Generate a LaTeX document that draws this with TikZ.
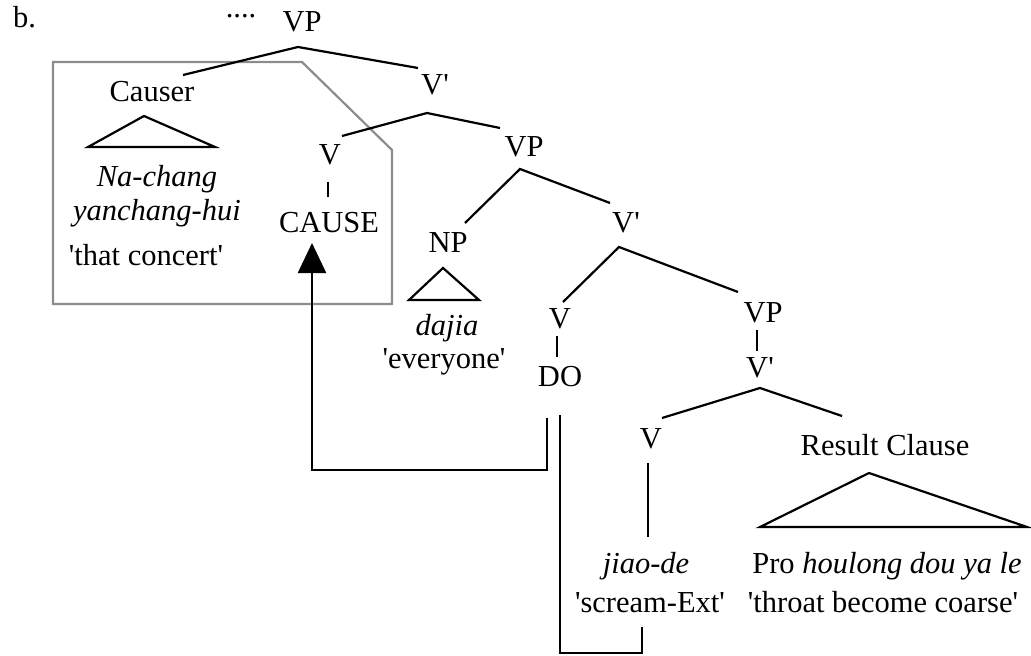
\documentclass[tikz,border=0pt]{standalone}
\usepackage{fontspec}
\setmainfont{Liberation Serif}
\usepackage{tikz}
\usetikzlibrary{arrows.meta}

\newcommand{\sq}{\textquotesingle}

\begin{document}
\begin{tikzpicture}[x=1bp, y=-1bp,
    font=\fontsize{30.5bp}{36bp}\selectfont,
    lbl/.style={anchor=base, inner sep=0pt},
    branch/.style={line width=2.2bp},
    boxline/.style={line width=2.2bp, draw=black!45}]
  \useasboundingbox (0,0) rectangle (1031,656);

  % Nodes
  \node[lbl, anchor=base west] (ex) at (13, 28) {b.};
  \node[lbl] (dots) at (241, 18) {....};
  \node[lbl] (vp1) at (302, 32) {VP};
  \node[lbl] (causer) at (152, 102) {Causer};
  \node[lbl] (nachang) at (157, 187) {\textit{Na-chang}};
  \node[lbl] (yanchang) at (157, 220) {\textit{yanchang-hui}};
  \node[lbl] (concert) at (146, 265) {\sq that concert\sq};
  \node[lbl] (vbar1) at (435, 95) {V\sq};
  \node[lbl] (v1) at (330, 165) {V};
  \node[lbl] (cause) at (329, 232) {CAUSE};
  \node[lbl] (vp2) at (524, 157) {VP};
  \node[lbl] (np) at (448, 252) {NP};
  \node[lbl] (dajia) at (447, 335) {\textit{dajia}};
  \node[lbl] (everyone) at (444, 368) {\sq everyone\sq};
  \node[lbl] (vbar2) at (626, 232) {V\sq};
  \node[lbl] (v2) at (560, 328) {V};
  \node[lbl] (do) at (560, 386) {DO};
  \node[lbl] (vp3) at (763, 322) {VP};
  \node[lbl] (vbar3) at (760, 377) {V\sq};
  \node[lbl] (v3) at (651, 448) {V};
  \node[lbl] (result) at (885, 455) {Result Clause};
  \node[lbl] (jiaode) at (646, 573) {\textit{jiao-de}};
  \node[lbl] (scream) at (650, 612) {\sq scream-Ext\sq};
  \node[lbl] (pro) at (887, 573) {Pro \textit{houlong dou ya le}};
  \node[lbl] (throat) at (883, 612) {\sq throat become coarse\sq};

  % Branch points
  \coordinate (vp1-b) at (298, 47);
  \coordinate (causer-t) at (183, 75);
  \coordinate (vbar1-t) at (418, 68);
  \coordinate (vbar1-b) at (427, 113);
  \coordinate (v1-t) at (342, 136);
  \coordinate (vp2-t) at (500, 128);
  \coordinate (vp2-b) at (520, 169);
  \coordinate (np-t) at (465, 223);
  \coordinate (vbar2-t) at (610, 203);
  \coordinate (vbar2-b) at (619, 247);
  \coordinate (v2-t) at (563, 302);
  \coordinate (vp3-t) at (738, 292);
  \coordinate (vbar3-b) at (760, 388);
  \coordinate (v3-t) at (662, 418);
  \coordinate (result-t) at (842, 416);
  \coordinate (do-out) at (547, 418);
  \coordinate (cause-in) at (312, 243);
  \coordinate (do-down) at (560, 415);
  \coordinate (scream-in) at (642, 627);

  % Grey box
  \draw[boxline] (53, 62) -- (302, 62) -- (392, 150) -- (392, 304) -- (53, 304) -- cycle;

  % Edges
  \draw[branch] (causer-t) -- (vp1-b) -- (vbar1-t);
  \draw[branch] (v1-t) -- (vbar1-b) -- (vp2-t);
  \draw[branch] (np-t) -- (vp2-b) -- (vbar2-t);
  \draw[branch] (v2-t) -- (vbar2-b) -- (vp3-t);
  \draw[branch] (v3-t) -- (vbar3-b) -- (result-t);
  \draw[branch] (328, 182) -- (328, 197);
  \draw[branch] (557, 336) -- (557, 357);
  \draw[branch] (757, 330) -- (757, 351);
  \draw[branch] (648, 463) -- (648, 537);

  % Triangles
  \draw[branch] (144, 116) -- (88, 147) -- (215, 147) -- cycle;
  \draw[branch] (443, 268) -- (409, 300) -- (479, 300) -- cycle;
  \draw[branch] (869, 473) -- (760, 527) -- (1027, 527) -- cycle;

  % Movement paths
  \draw[branch, -{Triangle[length=30bp, width=28bp]}]
    (do-out) -- (547, 470) -| (cause-in);
  \draw[branch] (do-down) -- (560, 653) -| (scream-in);
\end{tikzpicture}
\end{document}
